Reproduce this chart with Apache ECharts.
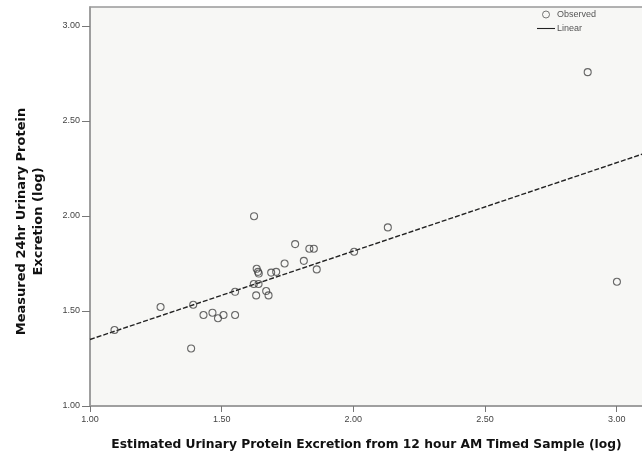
<!DOCTYPE html>
<html><head><meta charset="utf-8">
<script src="https://cdn.jsdelivr.net/npm/echarts@6/dist/echarts.min.js"></script>
<style>html,body{margin:0;padding:0;background:#fff}#c{width:642px;height:452px}</style>
</head><body><div id="c"></div>
<script>
const obsX = [1.093,1.268,1.384,1.392,1.431,1.465,1.486,1.507,1.551,1.551,1.623,1.622,1.640,1.631,1.633,1.638,1.641,1.669,1.678,1.688,1.707,1.739,1.779,1.812,1.833,1.850,1.861,2.003,2.131,2.890,3.001];
const obsY = [1.400,1.521,1.303,1.533,1.479,1.491,1.462,1.479,1.479,1.601,1.999,1.642,1.642,1.582,1.722,1.706,1.697,1.605,1.582,1.702,1.706,1.750,1.852,1.764,1.828,1.828,1.719,1.812,1.940,2.757,1.654];
const linX = [1.00, 3.10];
const linY = [1.350, 2.327];
const xTicks = [1.00, 1.50, 2.00, 2.50, 3.00];
const yTicks = [1.00, 1.50, 2.00, 2.50, 3.00];

const chart = echarts.init(document.getElementById('c'), null, {renderer:'canvas'});
const labelFont = {fontFamily:'Liberation Sans Narrow, Liberation Sans, Arial', fontSize:9, color:'#444'};
chart.setOption({
  animation:false,
  backgroundColor:'#fff',
  grid:{left:90, top:7, right:-1, bottom:46, outerBoundsMode:'none', containLabel:false,
        show:true, backgroundColor:'#F7F7F5', borderColor:'#999', borderWidth:1.5},
  legend:{
    orient:'vertical', left:532, top:5, itemGap:5, itemWidth:18, itemHeight:7,
    textStyle:{fontFamily:'Liberation Sans, Arial', fontSize:9, color:'#555', padding:[0,0,0,-3]},
    data:[
      {name:'Observed', icon:'circle', itemStyle:{color:'transparent', borderColor:'#555', borderWidth:1}},
      {name:'Linear', icon:'path://M0,0L20,0L20,1.2L0,1.2Z', itemStyle:{color:'#222', borderWidth:0}}
    ]
  },
  xAxis:{
    type:'value', min:1, max:3.1, interval:0.5,
    name:'Estimated Urinary Protein Excretion from 12 hour AM Timed Sample (log)',
    nameLocation:'middle', nameGap:33,
    nameTextStyle:{fontFamily:'DejaVu Sans', fontWeight:'bold', fontSize:12.3, color:'#111'},
    axisLine:{show:true, lineStyle:{color:'#999', width:1.5}},
    axisTick:{show:true, length:6, lineStyle:{color:'#777'}},
    axisLabel:{...labelFont, margin:9, showMaxLabel:false, formatter:v=>xTicks.includes(v)?v.toFixed(2):''},
    splitLine:{show:false}
  },
  yAxis:{
    type:'value', min:1, max:3.1, interval:0.5,
    name:'Measured 24hr Urinary Protein\nExcretion (log)',
    nameLocation:'middle', nameGap:43, nameRotate:90,
    nameTextStyle:{fontFamily:'DejaVu Sans', fontWeight:'bold', fontSize:13, color:'#111', lineHeight:17, padding:[0,0,0,-30]},
    axisLine:{show:true, lineStyle:{color:'#999', width:1.5}},
    axisTick:{show:true, length:8, lineStyle:{color:'#777'}},
    axisLabel:{...labelFont, margin:10, showMaxLabel:false, formatter:v=>yTicks.includes(v)?v.toFixed(2):''},
    splitLine:{show:false}
  },
  series:[
    {name:'Observed', type:'scatter', symbol:'circle', symbolSize:7,
     itemStyle:{color:'transparent', borderColor:'#444', borderWidth:1.1},
     data:obsX.map((x,i)=>[x,obsY[i]]), z:3},
    {name:'Linear', type:'line', symbol:'none', silent:true,
     lineStyle:{color:'#222', width:1.4, type:[5,2]},
     data:linX.map((x,i)=>[x,linY[i]]), z:2}
  ]
});
</script></body></html>
